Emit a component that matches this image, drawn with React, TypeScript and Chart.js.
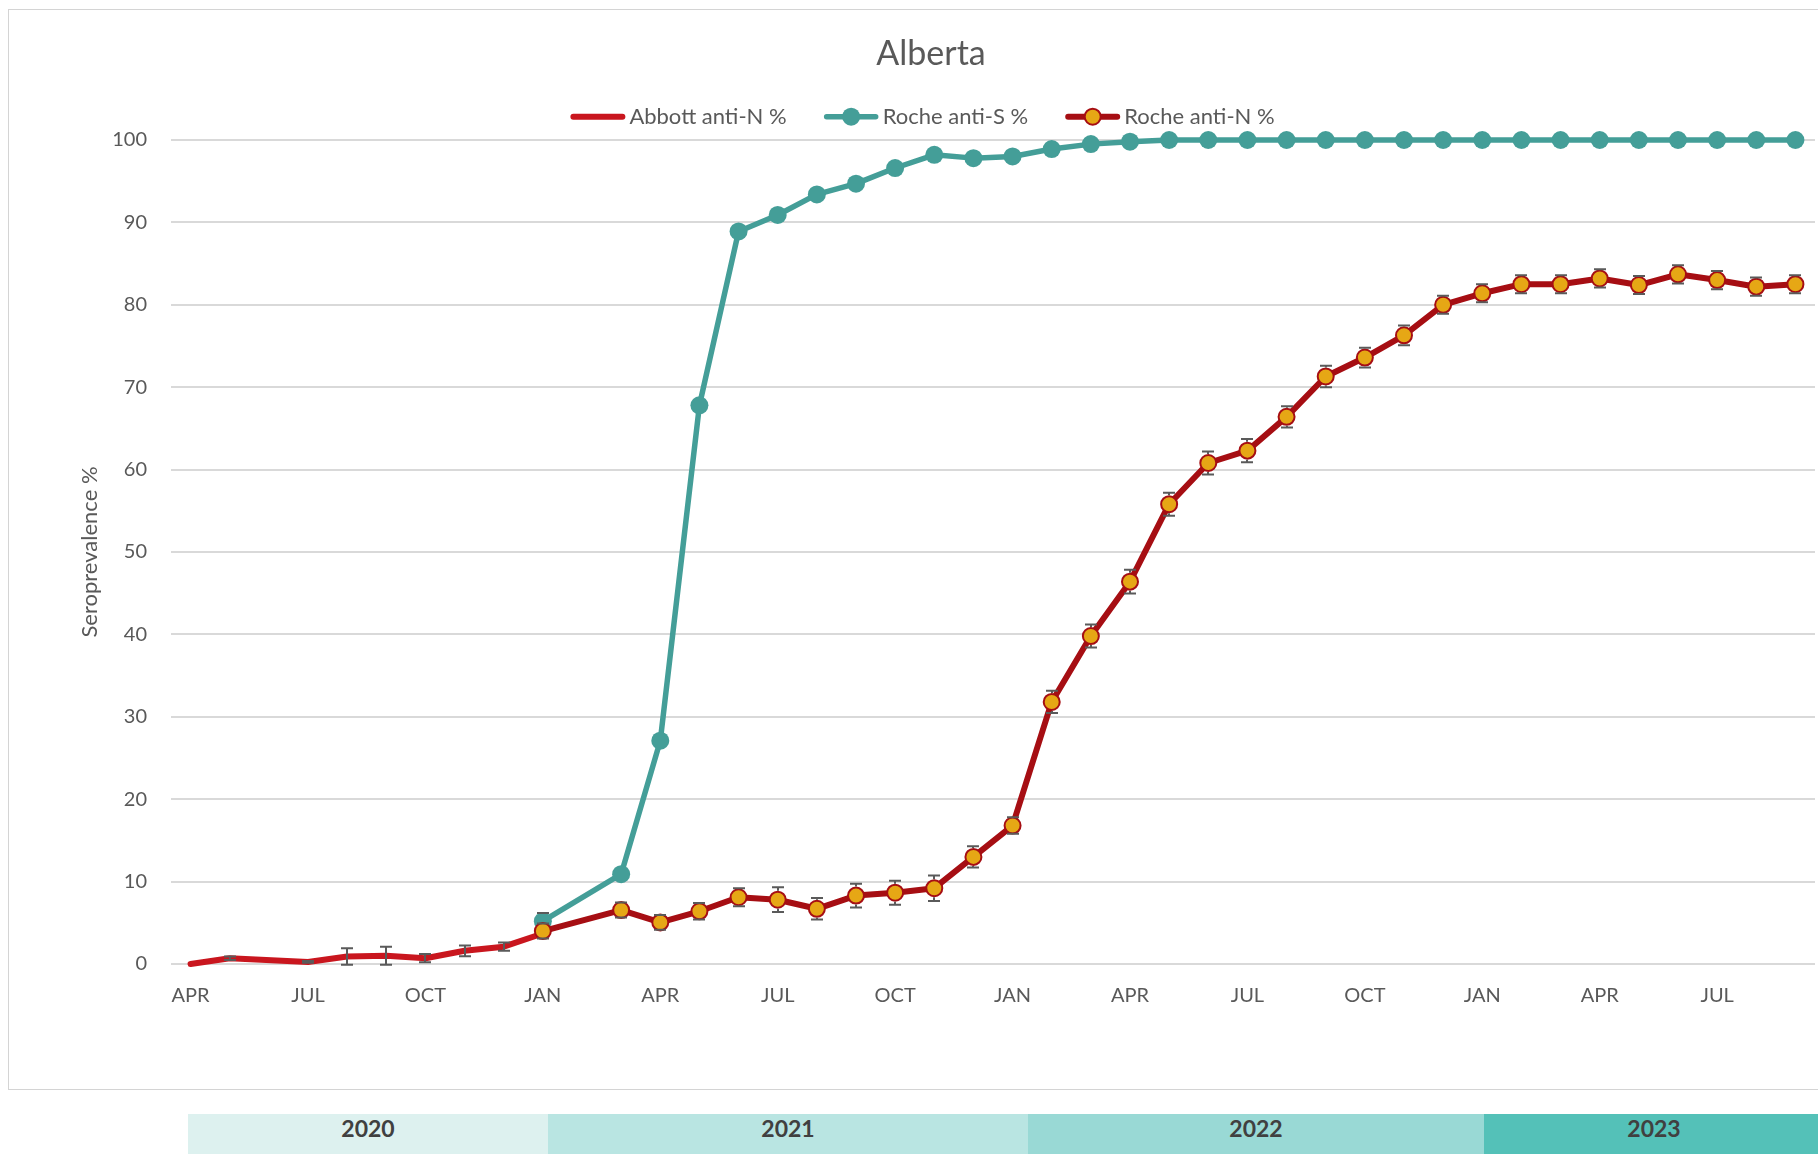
import React, { useEffect, useRef } from 'react';
import { Chart, registerables } from 'chart.js';

Chart.register(...registerables);

// ---------- data ----------
const chartTitle = 'Alberta';
const yAxisTitle = 'Seroprevalence %';

const monthLabels = [
  'APR', 'MAY', 'JUN', 'JUL', 'AUG', 'SEP', 'OCT', 'NOV', 'DEC',
  'JAN', 'FEB', 'MAR', 'APR', 'MAY', 'JUN', 'JUL', 'AUG', 'SEP', 'OCT', 'NOV', 'DEC',
  'JAN', 'FEB', 'MAR', 'APR', 'MAY', 'JUN', 'JUL', 'AUG', 'SEP', 'OCT', 'NOV', 'DEC',
  'JAN', 'FEB', 'MAR', 'APR', 'MAY', 'JUN', 'JUL', 'AUG', 'SEP',
];
const shownTickLabels = ['JAN', 'APR', 'JUL', 'OCT'];

const yearLabels = ['2020', '2021', '2022', '2023'];

const abbottN = [0.0, 0.7, null, 0.25, 0.9, 1.0, 0.7, 1.6, 2.1, 3.7];
const abbottNErr = [0, 0.2, null, 0.1, 1.0, 1.1, 0.5, 0.65, 0.5, 0];

const rocheS = [
  null, null, null, null, null, null, null, null, null,
  5.2, null, 10.9, 27.1, 67.8, 88.9, 90.9, 93.4, 94.7, 96.6, 98.2, 97.8,
  98.0, 98.9, 99.5, 99.8, 100, 100, 100, 100, 100, 100, 100, 100,
  100, 100, 100, 100, 100, 100, 100, 100, 100,
];
const rocheSErr = [
  null, null, null, null, null, null, null, null, null,
  1.0,
];

const rocheN = [
  null, null, null, null, null, null, null, null, null,
  4.0, null, 6.55, 5.05, 6.4, 8.1, 7.8, 6.7, 8.3, 8.65, 9.2, 13.0,
  16.8, 31.8, 39.8, 46.4, 55.8, 60.8, 62.3, 66.4, 71.3, 73.6, 76.3, 80.0,
  81.4, 82.5, 82.5, 83.2, 82.4, 83.7, 83.0, 82.2, 82.5,
];
const rocheNErr = [
  null, null, null, null, null, null, null, null, null,
  0.9, null, 0.9, 0.9, 1.0, 1.1, 1.5, 1.3, 1.45, 1.45, 1.55, 1.3,
  1.0, 1.35, 1.4, 1.45, 1.4, 1.4, 1.4, 1.3, 1.3, 1.2, 1.2, 1.1,
  1.1, 1.1, 1.1, 1.1, 1.1, 1.1, 1.1, 1.1, 1.1,
];

// ---------- styles ----------
const FONT = 'Lato, "Open Sans", sans-serif';
const TEXT = '#595959';
const ABBOTT = '#C9161E';
const TEAL = '#449E98';
const ROCHE_N_LINE = '#A60E13';
const ROCHE_N_FILL = '#E6A715';
const ERR = '#5A5A5A';

const bandStyles = [
  { left: 188, width: 360, bg: '#DDF1EF' },
  { left: 548, width: 480, bg: '#B9E5E2' },
  { left: 1028, width: 456, bg: '#99D9D5' },
  { left: 1484, width: 340, bg: '#54C1B8' },
];

const errorBarPlugin = {
  id: 'errorBars',
  afterDatasetDraw(chart: any, args: any) {
    const ds: any = chart.data.datasets[args.index];
    const errs: any[] = ds.errorBars;
    if (!errs) return;
    const y = chart.scales.y;
    const ctx = chart.ctx;
    ctx.save();
    ctx.strokeStyle = ERR;
    ctx.lineWidth = 2;
    const r = ds.pointRadius > 0 ? ds.pointRadius + (ds.pointBorderWidth || 0) / 2 : 0;
    args.meta.data.forEach((el: any, i: number) => {
      const v = ds.data[i];
      const e = errs[i];
      if (v == null || e == null || e <= 0) return;
      const px = Math.round(el.x);
      const py = el.y;
      const yt = y.getPixelForValue(v + e);
      const yb = y.getPixelForValue(v - e);
      ctx.beginPath();
      if (r > 0) {
        if (yt < py - r) { ctx.moveTo(px, yt); ctx.lineTo(px, py - r); }
        if (yb > py + r) { ctx.moveTo(px, py + r); ctx.lineTo(px, yb); }
      } else {
        ctx.moveTo(px, yt); ctx.lineTo(px, yb);
      }
      ctx.moveTo(px - 6, yt); ctx.lineTo(px + 6, yt);
      ctx.moveTo(px - 6, yb); ctx.lineTo(px + 6, yb);
      ctx.stroke();
    });
    ctx.restore();
  },
};

const decorPlugin = {
  id: 'decor',
  afterDraw(chart: any) {
    const ctx = chart.ctx;
    const area = chart.chartArea;
    ctx.save();
    // title
    ctx.fillStyle = TEXT;
    ctx.font = `34px ${FONT}`;
    ctx.textAlign = 'center';
    ctx.textBaseline = 'alphabetic';
    ctx.fillText(chartTitle, 922, 55);

    // y axis title
    ctx.save();
    ctx.translate(81, (area.top + area.bottom) / 2);
    ctx.rotate(-Math.PI / 2);
    ctx.font = `22px ${FONT}`;
    ctx.textAlign = 'center';
    ctx.textBaseline = 'middle';
    ctx.fillText(yAxisTitle, 0, 0);
    ctx.restore();

    // legend
    ctx.font = `22px ${FONT}`;
    const items = chart.data.datasets.map((ds: any) => ({ ds, w: ctx.measureText(ds.label).width }));
    const sample = 55;
    const gapT = 4;
    const gapI = 37;
    const total = items.reduce((s: number, it: any) => s + sample + gapT + it.w, 0) + gapI * (items.length - 1);
    let x = 913.5 - total / 2;
    const ly = 106.7;
    const by = 114.3;
    for (const it of items) {
      const ds = it.ds;
      ctx.strokeStyle = ds.borderColor;
      ctx.lineWidth = ds.borderWidth;
      ctx.lineCap = 'round';
      ctx.beginPath();
      ctx.moveTo(x + 3, ly);
      ctx.lineTo(x + sample - 3, ly);
      ctx.stroke();
      if (ds.pointRadius > 0) {
        ctx.beginPath();
        ctx.arc(x + sample / 2, ly, ds.pointRadius, 0, Math.PI * 2);
        ctx.fillStyle = ds.pointBackgroundColor;
        ctx.fill();
        if (ds.pointBorderWidth > 0) {
          ctx.lineWidth = ds.pointBorderWidth;
          ctx.strokeStyle = ds.pointBorderColor;
          ctx.stroke();
        }
      }
      ctx.fillStyle = TEXT;
      ctx.textAlign = 'left';
      ctx.textBaseline = 'alphabetic';
      ctx.fillText(ds.label, x + sample + gapT, by);
      x += sample + gapT + it.w + gapI;
    }
    ctx.restore();
  },
};

export default function App() {
  const ref = useRef<HTMLCanvasElement>(null);

  useEffect(() => {
    if (!ref.current) return;
    const chart = new Chart(ref.current, {
      type: 'line',
      data: {
        labels: monthLabels,
        datasets: [
          {
            label: 'Abbott anti-N %',
            data: abbottN,
            errorBars: abbottNErr,
            borderColor: ABBOTT,
            backgroundColor: ABBOTT,
            borderWidth: 6,
            pointRadius: 0,
            pointHoverRadius: 0,
            pointBorderWidth: 0,
            spanGaps: true,
            tension: 0,
            borderJoinStyle: 'round',
            borderCapStyle: 'round',
            order: 2,
            clip: false,
          } as any,
          {
            label: 'Roche anti-S %',
            data: rocheS,
            errorBars: rocheSErr,
            borderColor: TEAL,
            backgroundColor: TEAL,
            borderWidth: 5.5,
            pointRadius: 9,
            pointHoverRadius: 9,
            pointBackgroundColor: TEAL,
            pointBorderColor: TEAL,
            pointBorderWidth: 0,
            spanGaps: true,
            tension: 0,
            borderJoinStyle: 'round',
            borderCapStyle: 'round',
            order: 1,
            clip: false,
          } as any,
          {
            label: 'Roche anti-N %',
            data: rocheN,
            errorBars: rocheNErr,
            borderColor: ROCHE_N_LINE,
            backgroundColor: ROCHE_N_FILL,
            borderWidth: 6,
            pointRadius: 8,
            pointHoverRadius: 8,
            pointBackgroundColor: ROCHE_N_FILL,
            pointBorderColor: ROCHE_N_LINE,
            pointBorderWidth: 2,
            spanGaps: true,
            tension: 0,
            borderJoinStyle: 'round',
            borderCapStyle: 'round',
            order: 0,
            clip: false,
          } as any,
        ],
      },
      options: {
        responsive: false,
        animation: false,
        events: [],
        layout: { padding: { left: 0, right: 38, top: 130, bottom: 0 } },
        plugins: {
          legend: { display: false },
          title: { display: false },
          tooltip: { enabled: false },
        },
        scales: {
          x: {
            type: 'category',
            offset: true,
            grid: { display: false, drawTicks: false },
            border: { display: false },
            afterFit: (s: any) => { s.height = 125; },
            ticks: {
              autoSkip: false,
              maxRotation: 0,
              minRotation: 0,
              padding: 20,
              color: TEXT,
              font: { family: FONT, size: 20 },
              callback: (_v: any, i: number) => (shownTickLabels.includes(monthLabels[i]) ? monthLabels[i] : ''),
            },
          },
          y: {
            min: 0,
            max: 100,
            afterFit: (s: any) => { s.width = 162; },
            grid: { color: '#D9D9D9', lineWidth: 2, drawTicks: false },
            border: { display: false },
            ticks: {
              stepSize: 10,
              padding: 24,
              color: TEXT,
              font: { family: FONT, size: 20 },
            },
          },
        },
      } as any,
      plugins: [errorBarPlugin, decorPlugin],
    });
    return () => chart.destroy();
  }, []);

  return (
    <div style={{ position: 'fixed', left: 0, top: 0, width: 1818, height: 1154, overflow: 'hidden', background: '#fff' }}>
      <div
        style={{
          position: 'absolute', left: 8, top: 9, width: 1846, height: 1081,
          boxSizing: 'border-box', border: '1px solid #D4D4D4', background: '#fff',
        }}
      >
        <canvas ref={ref} width={1844} height={1079} style={{ display: 'block', width: 1844, height: 1079 }} />
      </div>
      {yearLabels.map((yr, i) => (
        <div
          key={yr}
          style={{
            position: 'absolute', left: bandStyles[i].left, top: 1114, width: bandStyles[i].width, height: 40,
            background: bandStyles[i].bg, textAlign: 'center', boxSizing: 'border-box', paddingTop: 2,
            fontFamily: FONT, fontWeight: 700, fontSize: 23, lineHeight: '24px', color: '#404040',
          }}
        >
          {yr}
        </div>
      ))}
    </div>
  );
}
